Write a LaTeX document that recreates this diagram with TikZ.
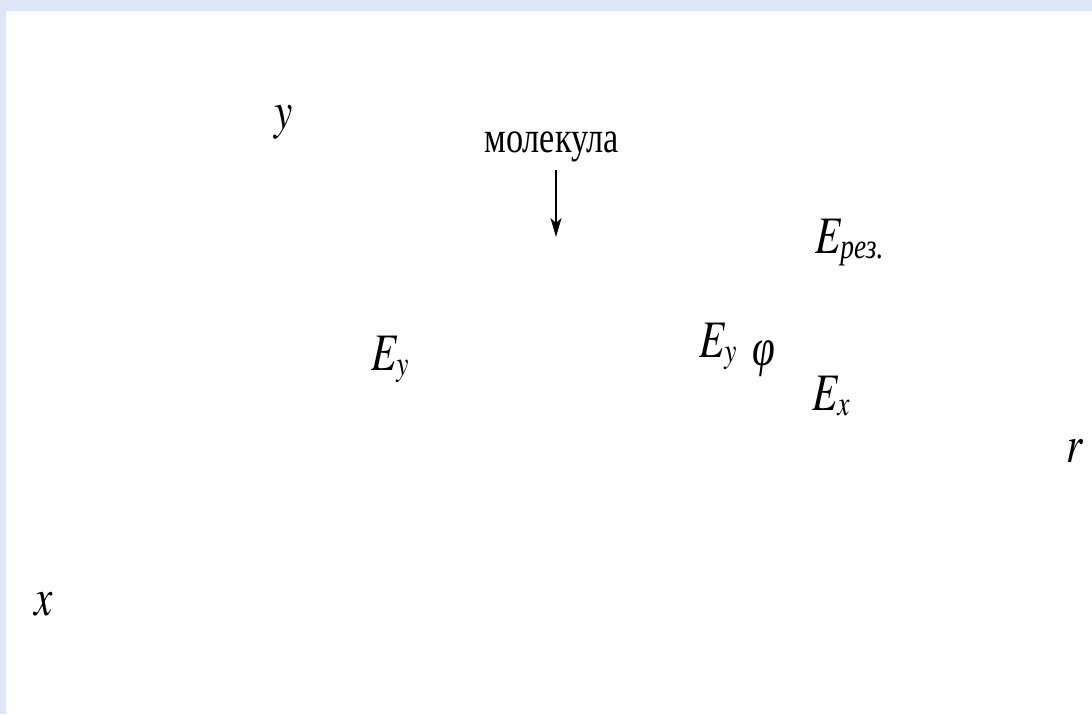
\documentclass[tikz,border=0pt]{standalone}
\usepackage{fontspec}
\setmainfont{Liberation Serif}
\newfontfamily\termes{texgyretermes}[Extension=.otf,
  UprightFont=*-regular, ItalicFont=*-italic]
\usepackage{graphicx}
\usetikzlibrary{arrows.meta}
\definecolor{frameblue}{RGB}{220,232,248}
\tikzset{lbl/.style = {anchor=base west, inner sep=0,
                       font=\fontsize{30}{36}\selectfont\termes\itshape}}
\tikzset{caption/.style = {anchor=base west, inner sep=0,
                       font=\fontsize{25}{30}\selectfont}}
\tikzset{drop/.style = {-{Stealth[length=0.38cm,width=0.22cm,inset=0.1cm]},
                        line width=0.8pt}}
\newcommand{\squeeze}[1]{\scalebox{0.78}[1]{#1}}
\newcommand{\lowsub}[1]{\raisebox{-3pt}{\fontsize{20}{20}\selectfont\itshape #1}}

\begin{document}
\begin{tikzpicture}[x=0.02cm, y=-0.02cm]
      % Page and frame
      \useasboundingbox (0,0) rectangle (1092,714);
      \fill[white] (0,0) rectangle (1092,714);
      \fill[frameblue] (0,0) rectangle (1092,11);
      \fill[frameblue] (0,0) rectangle (6,714);

      % Axes labels
      \node[lbl] (ylab) at (274,128) {\squeeze{y}};
      \node[lbl] (xlab) at (34,615) {\squeeze{x}};
      \node[lbl] (rlab) at (1066,462) {\squeeze{r}};

      % Molecule and its arrow
      \node[caption] (mol) at (484,152) {\squeeze{молекула}};
      \coordinate (tail) at (556,170);
      \coordinate (tip) at (556,237);
      \draw[drop] (tail) -- (tip);

      % Field components
      \node[lbl] (eyleft) at (371,370) {\squeeze{E\lowsub{y}}};
      \node[lbl] (eyright) at (699,357) {\squeeze{E\lowsub{y}}};
      \node[lbl] (phi) at (752,365) {\squeeze{\rmfamily\itshape φ}};
      \node[lbl] (ex) at (812,410) {\squeeze{E\lowsub{x}}};
      \node[lbl] (eres) at (815,253) {\squeeze{E\lowsub{\rmfamily\itshape рез.}}};
    \end{tikzpicture}
\end{document}
